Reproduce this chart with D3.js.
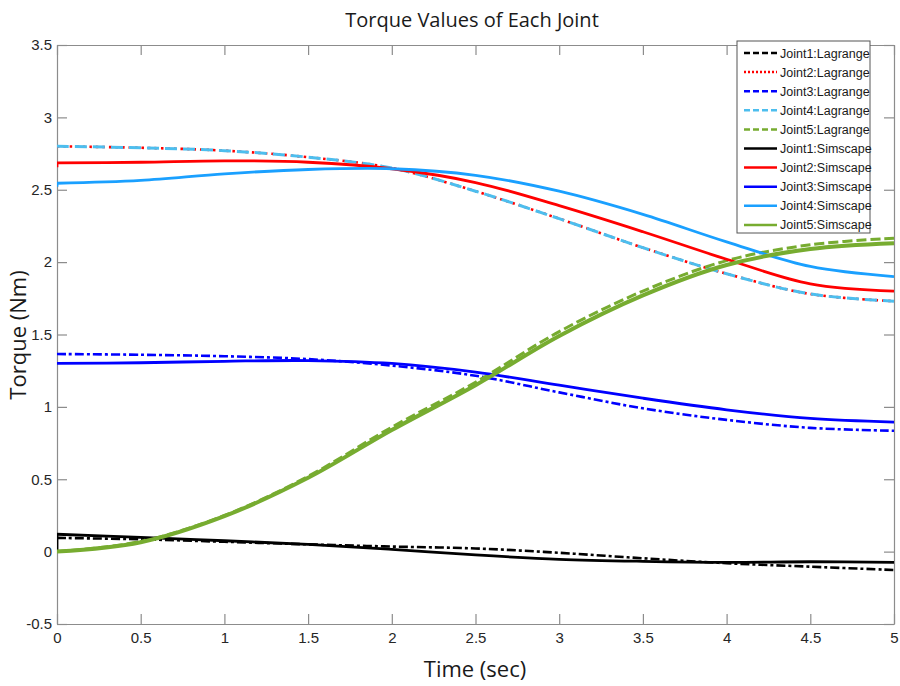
<!DOCTYPE html>
<html><head><meta charset="utf-8">
<script src="https://cdn.jsdelivr.net/npm/d3@7"></script>
<style>
body{margin:0;background:#fff;}
svg{display:block;}
.tick text{font-family:"Liberation Sans Narrow","Arial Narrow","Liberation Sans",sans-serif;font-size:15px;fill:#262626;}
</style></head><body>
<svg id="c" width="900" height="686"></svg>
<script>
// ---- data ----
const time = [0, 0.5, 1, 1.5, 2, 2.5, 3, 3.5, 4, 4.5, 5];
const xTicks = [0, 0.5, 1, 1.5, 2, 2.5, 3, 3.5, 4, 4.5, 5];
const yTicks = [-0.5, 0, 0.5, 1, 1.5, 2, 2.5, 3, 3.5];

const joint1Lagrange = [0.095, 0.085, 0.068, 0.05, 0.035, 0.022, -0.008, -0.046, -0.08, -0.104, -0.127];
const joint2Lagrange = [2.80, 2.79, 2.77, 2.725, 2.65, 2.49, 2.30, 2.10, 1.92, 1.78, 1.73];
const joint3Lagrange = [1.365, 1.36, 1.35, 1.33, 1.285, 1.215, 1.10, 0.99, 0.91, 0.855, 0.835];
const joint4Lagrange = [2.80, 2.79, 2.77, 2.725, 2.65, 2.49, 2.30, 2.10, 1.92, 1.78, 1.73];
const joint5Lagrange = [0, 0.07, 0.25, 0.52, 0.86, 1.17, 1.52, 1.80, 2.01, 2.12, 2.165];

const joint1Simscape = [0.12, 0.099, 0.075, 0.05, 0.016, -0.023, -0.053, -0.067, -0.074, -0.07, -0.074];
const joint2Simscape = [2.685, 2.69, 2.70, 2.69, 2.645, 2.55, 2.39, 2.21, 2.02, 1.85, 1.80];
const joint3Simscape = [1.30, 1.305, 1.315, 1.32, 1.30, 1.24, 1.15, 1.06, 0.98, 0.92, 0.895];
const joint4Simscape = [2.545, 2.565, 2.61, 2.64, 2.645, 2.60, 2.49, 2.33, 2.14, 1.97, 1.90];
const joint5Simscape = [0, 0.065, 0.245, 0.51, 0.84, 1.15, 1.49, 1.77, 1.98, 2.09, 2.13];
// initial values of Simscape signals just before the first sample (vertical jump at t=0)
const simscapeStart = [0, 2.655, 1.30, 2.52, 0];

const seriesNames = ["Joint1:Lagrange","Joint2:Lagrange","Joint3:Lagrange","Joint4:Lagrange","Joint5:Lagrange",
  "Joint1:Simscape","Joint2:Simscape","Joint3:Simscape","Joint4:Simscape","Joint5:Simscape"];
const seriesValues = [joint1Lagrange, joint2Lagrange, joint3Lagrange, joint4Lagrange, joint5Lagrange,
  joint1Simscape, joint2Simscape, joint3Simscape, joint4Simscape, joint5Simscape];

// ---- styles ----
const styles = [
  {color:"#000000", dash:"9,3,3,3", w:2.6},
  {color:"#ff0000", dash:"2.5,4", w:2.6},
  {color:"#0000ff", dash:"9,3,3,3", w:2.6},
  {color:"#4dbeee", dash:"12,6", w:3},
  {color:"#77ac30", dash:"10,4", w:3},
  {color:"#000000", dash:null, w:2.8},
  {color:"#ff0000", dash:null, w:2.8},
  {color:"#0000ff", dash:null, w:2.8},
  {color:"#1aa0ff", dash:null, w:2.8},
  {color:"#77ac30", dash:null, w:4}
];
const legendDash = ["6,3","2,2","6,3","6,3","6,3",null,null,null,null,null];

const svg = d3.select("#c");
const L = 57, R = 894, T = 45, B = 624;
const x = d3.scaleLinear().domain([0,5]).range([L,R]);
const y = d3.scaleLinear().domain([-0.5,3.5]).range([B,T]);

svg.append("defs").append("clipPath").attr("id","clip")
  .append("rect").attr("x",L).attr("y",T).attr("width",R-L).attr("height",B-T);

// axes
const fmt = d => String(d);
const axisStyle = g => { g.select(".domain").attr("stroke","#8c8c8c").attr("stroke-width",1.2);
  g.selectAll(".tick line").attr("stroke","#8c8c8c").attr("stroke-width",1.2); };
svg.append("g").attr("transform",`translate(0,${B})`)
  .call(d3.axisBottom(x).tickValues(xTicks).tickFormat(fmt).tickSizeInner(-10).tickSizeOuter(0).tickPadding(8))
  .call(axisStyle);
svg.append("g").attr("transform",`translate(0,${T})`)
  .call(d3.axisTop(x).tickValues(xTicks).tickFormat("").tickSizeInner(-10).tickSizeOuter(0))
  .call(axisStyle);
svg.append("g").attr("transform",`translate(${L},0)`)
  .call(d3.axisLeft(y).tickValues(yTicks).tickFormat(fmt).tickSizeInner(-10).tickSizeOuter(0).tickPadding(5))
  .call(axisStyle);
svg.append("g").attr("transform",`translate(${R},0)`)
  .call(d3.axisRight(y).tickValues(yTicks).tickFormat("").tickSizeInner(-10).tickSizeOuter(0))
  .call(axisStyle);
svg.selectAll(".tick text").attr("fill","#262626");

// lines
const line = d3.line().x((d,i)=>x(time[i])).y(d=>y(d)).curve(d3.curveCatmullRom.alpha(0.5));
const plot = svg.append("g").attr("clip-path","url(#clip)");
seriesValues.forEach((vals,k) => {
  const s = styles[k];
  if (k >= 5) {
    plot.append("line").attr("x1",x(0)).attr("x2",x(0))
      .attr("y1",y(simscapeStart[k-5])).attr("y2",y(vals[0]))
      .attr("stroke",s.color).attr("stroke-width",s.w);
  }
  const p = plot.append("path").datum(vals).attr("d",line)
    .attr("fill","none").attr("stroke",s.color).attr("stroke-width",s.w)
    .attr("stroke-linejoin","round");
  if (s.dash) p.attr("stroke-dasharray",s.dash);
});

// title and labels
svg.append("text").attr("x",472).attr("y",27).attr("text-anchor","middle")
  .attr("font-family","Open Sans, sans-serif").attr("font-size",20).attr("fill","#1a1a1a")
  .text("Torque Values of Each Joint");
svg.append("text").attr("x",475).attr("y",677).attr("text-anchor","middle")
  .attr("font-family","Open Sans, sans-serif").attr("font-size",22).attr("fill","#1a1a1a")
  .text("Time (sec)");
svg.append("text").attr("transform","translate(26,335) rotate(-90)").attr("text-anchor","middle")
  .attr("font-family","Open Sans, sans-serif").attr("font-size",22).attr("fill","#1a1a1a")
  .text("Torque (Nm)");

// legend
const lg = svg.append("g");
lg.append("rect").attr("x",737).attr("y",41).attr("width",133).attr("height",192)
  .attr("fill","#fff").attr("stroke","#555").attr("stroke-width",1);
seriesNames.forEach((n,k) => {
  const yy = 53 + k*19.1;
  const l = lg.append("line").attr("x1",744).attr("x2",777).attr("y1",yy).attr("y2",yy)
    .attr("stroke",styles[k].color).attr("stroke-width",2.5);
  if (legendDash[k]) l.attr("stroke-dasharray",legendDash[k]);
  lg.append("text").attr("x",780).attr("y",yy+4.5)
    .attr("font-family","Liberation Sans Narrow, Arial Narrow, Liberation Sans, sans-serif")
    .attr("font-size",12.5).attr("fill","#1a1a1a").text(n);
});
</script></body></html>
